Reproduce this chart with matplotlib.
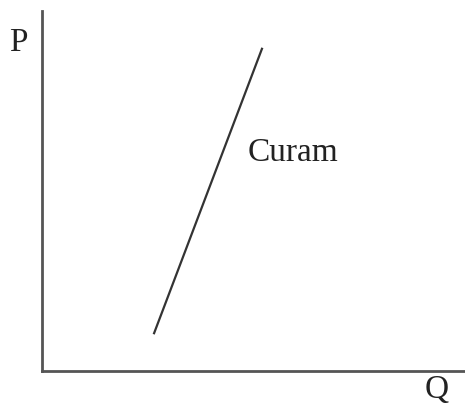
import matplotlib
matplotlib.use("Agg")
import matplotlib.pyplot as plt

# supply curve end points (Q, P)
q = [2.65, 5.2]
p = [1.05, 8.95]
curve_label = "Curam"
x_label = "Q"
y_label = "P"

fig = plt.figure(figsize=(4.65, 4.06), dpi=100)
ax = fig.add_axes([42 / 465, (406 - 372) / 406, 423 / 465, 360 / 406])
ax.set_xlim(0, 10)
ax.set_ylim(0, 10)

ax.plot(q, p, color="#333333", lw=1.6)
ax.text(4.85, 6.1, curve_label, fontsize=24, family="Liberation Serif",
        va="center", ha="left", color="#222222")

for s in ["top", "right"]:
    ax.spines[s].set_visible(False)
for s in ["left", "bottom"]:
    ax.spines[s].set_linewidth(2.0)
    ax.spines[s].set_color("#555555")
ax.set_xticks([])
ax.set_yticks([])

ax.text(-0.057, 0.915, y_label, transform=ax.transAxes, fontsize=24,
        family="Liberation Serif", ha="center", va="center", color="#222222")
ax.text(0.934, -0.05, x_label, transform=ax.transAxes, fontsize=24,
        family="Liberation Serif", ha="center", va="center", color="#222222")

fig.savefig("out.png", dpi=100)
